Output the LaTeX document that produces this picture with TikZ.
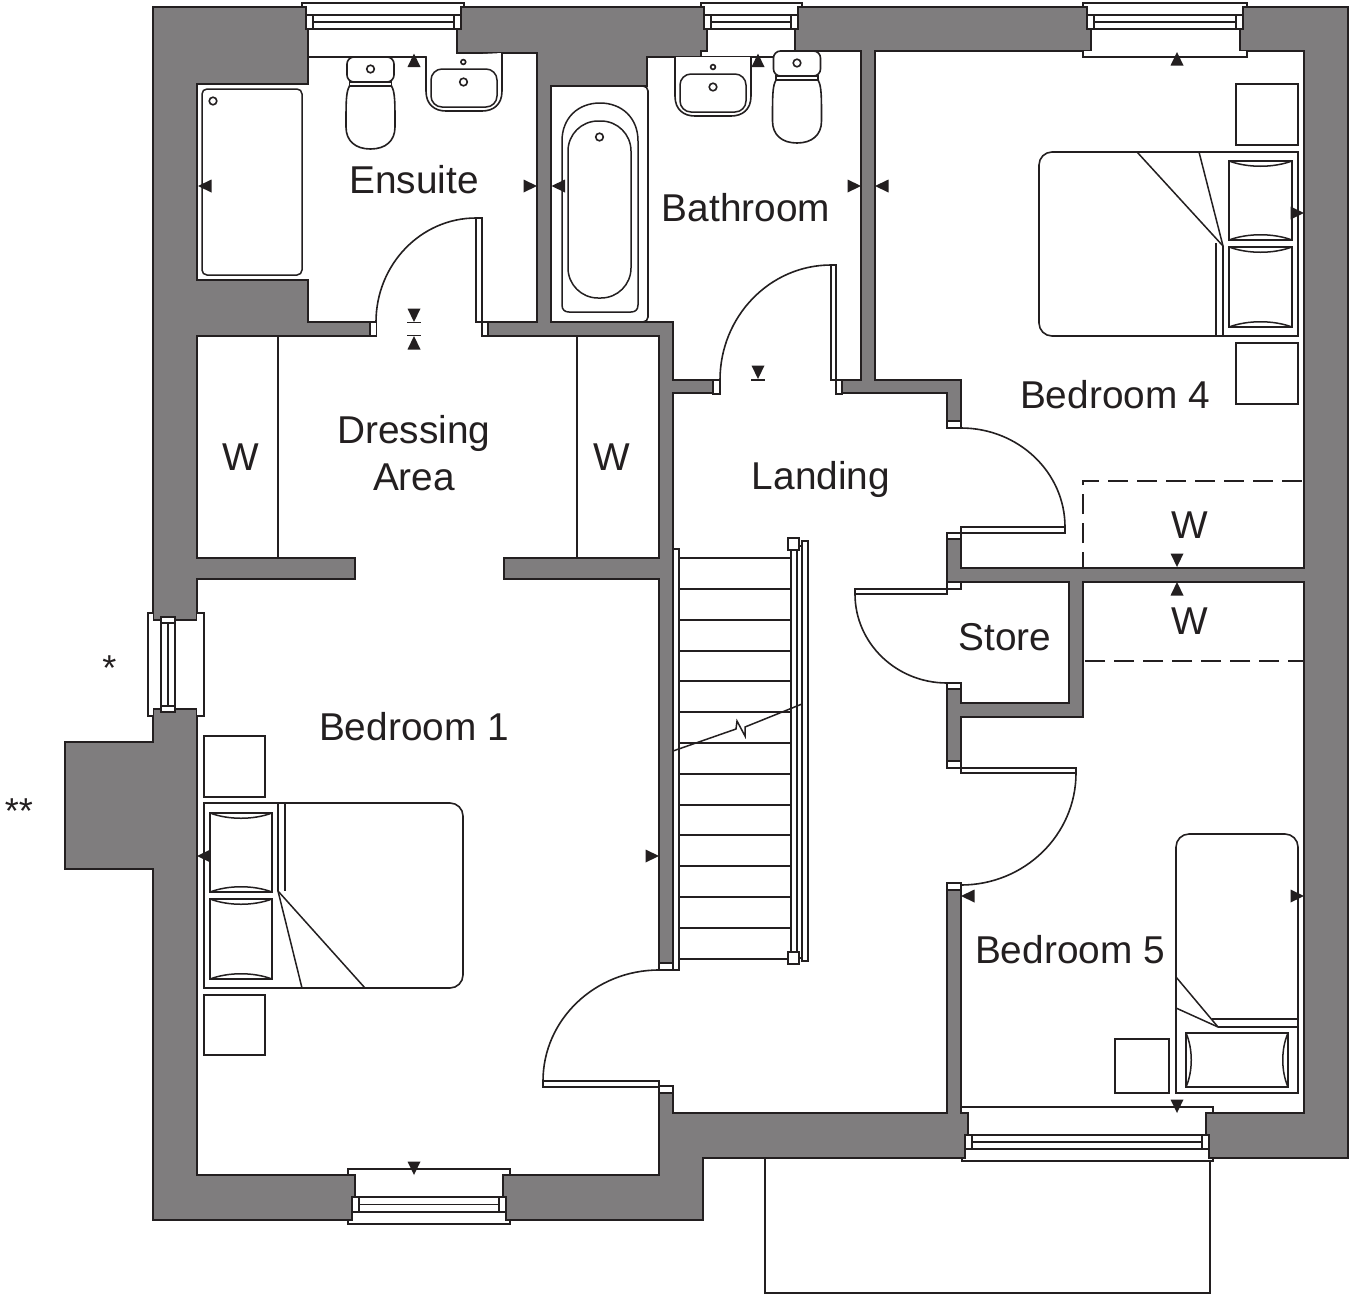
\documentclass[tikz,border=0pt]{standalone}
\usepackage{fontspec}
\setmainfont{Liberation Sans}
\definecolor{ink}{HTML}{231F20}
\definecolor{wallgrey}{HTML}{7F7D7E}
\tikzset{
  ln/.style={draw=ink,line width=1.6pt,line join=miter},
  wallbody/.style={ln,fill=wallgrey},
  room/.style={ln,fill=white},
  gapw/.style={fill=white,draw=none},
  fit/.style={ln,fill=white},
  thinln/.style={draw=ink,line width=1.5pt},
  dashln/.style={draw=ink,line width=1.3pt,dash pattern=on 20pt off 9pt,dash phase=4pt},
  mk/.style={fill=ink,draw=none},
  lab/.style={text=ink,inner sep=0pt,anchor=base,font=\fontsize{38.8}{38.8}\selectfont}
}
% markers: tip position
\newcommand\mkL[2]{\fill[mk] (#1,#2) -- ({#1+13.5},{#2-6.5}) -- ({#1+13.5},{#2+6.5}) -- cycle;}
\newcommand\mkR[2]{\fill[mk] (#1,#2) -- ({#1-13.5},{#2-6.5}) -- ({#1-13.5},{#2+6.5}) -- cycle;}
\newcommand\mkU[2]{\fill[mk] (#1,#2) -- ({#1-6.5},{#2+13.5}) -- ({#1+6.5},{#2+13.5}) -- cycle;}
\newcommand\mkD[2]{\fill[mk] (#1,#2) -- ({#1-6.5},{#2-13.5}) -- ({#1+6.5},{#2-13.5}) -- cycle;}
% horizontal window frame: xL xR yT yB
\newcommand\hframe[4]{
  \draw[fit] (#1,#3) rectangle (#2,#4);
  \draw[ln] ({#1+7},{(#3+#4)/2}) -- ({#2-7},{(#3+#4)/2});
  \draw[ln] ({#1+7},#3) -- ({#1+7},#4);
  \draw[ln] ({#2-7},#3) -- ({#2-7},#4);
}
% horizontal pillow
\newcommand\pillowH[4]{
  \draw[fit] (#1,#2) rectangle (#3,#4);
  \draw[thinln] (#1,#2) .. controls ({#1+.3*(#3-#1)},{#2+7}) and ({#3-.3*(#3-#1)},{#2+7}) .. (#3,#2);
  \draw[thinln] (#1,#4) .. controls ({#1+.3*(#3-#1)},{#4-7}) and ({#3-.3*(#3-#1)},{#4-7}) .. (#3,#4);
}
% toilet: cx, cistern top, cistern bottom, bowl top, bowl bottom
\newcommand\wc[5]{
  \draw[fit,rounded corners=7pt] ({#1-23.5},#2) -- ({#1+23.5},#2) -- ({#1+23.5},#3) -- ({#1-23.5},#3) -- cycle;
  \draw[fit] ({#1-21},#3) -- ({#1+21},#3) -- ({#1+21},#4) -- ({#1-21},#4) -- cycle;
  \draw[fit] ({#1-21},#4) .. controls ({#1-24.5},{#4+6}) and ({#1-24.5},{#4+15}) .. ({#1-24.5},{#5-22})
    .. controls ({#1-24.5},{#5-8}) and ({#1-15},#5) .. (#1,#5)
    .. controls ({#1+15},#5) and ({#1+24.5},{#5-8}) .. ({#1+24.5},{#5-22})
    .. controls ({#1+24.5},{#4+15}) and ({#1+24.5},{#4+6}) .. ({#1+21},#4) -- cycle;
  \draw[fit] (#1,{(#2+#3)/2-.5}) circle (3.8pt);
}
% basin: x1 x2 yT(left) yT(right) yB ; inner yT yB ; cx ; plug y
\newcommand\basin[9]{
  \draw[fit] (#1,#3) -- (#1,{#5-20}) .. controls (#1,{#5-6}) and ({#1+9},#5) .. ({#1+20},#5)
     -- ({#2-20},#5) .. controls ({#2-9},#5) and (#2,{#5-6}) .. (#2,{#5-20}) -- (#2,#4);
  \draw[thinln,rounded corners=11pt] ({#1+5},#6) -- ({#2-5},#6) -- ({#2-5},#7) -- ({#1+5},#7) -- cycle;
  \draw[fit] (#8,#9) circle (3.8pt);
}
\begin{document}
\begin{tikzpicture}[x=1pt,y=-1pt]
\useasboundingbox (0,0) rectangle (1352,1296);
% balcony outline below
\draw[ln] (765,1158) -- (765,1293) -- (1210,1293) -- (1210,1160);
% walls
\draw[wallbody] (153,7) -- (1348,7) -- (1348,1158) -- (703,1158) -- (703,1220) -- (153,1220) -- (153,869) -- (65,869) -- (65,742) -- (153,742) -- cycle;
% rooms
\draw[room] (197,84) -- (308,84) -- (308,29) -- (457,29) -- (457,53) -- (537,53) -- (537,322) -- (308,322) -- (308,280) -- (197,280) -- cycle;
\draw[room] (551,86) -- (647,86) -- (647,57) -- (701,57) -- (701,51) -- (707,51) -- (707,29) -- (795,29) -- (795,51) -- (861,51) -- (861,380) -- (673,380) -- (673,322) -- (551,322) -- cycle;
\draw[room] (875,51) -- (1083,51) -- (1091,51) -- (1091,29) -- (1240,29) -- (1240,51) -- (1304,51) -- (1304,568) -- (961,568) -- (961,380) -- (875,380) -- cycle;
\draw[room] (197,336) -- (659,336) -- (659,558) -- (504,558) -- (504,579) -- (659,579) -- (659,1175) -- (503,1175) -- (503,1197) -- (355,1197) -- (355,1175) -- (197,1175) -- (197,579) -- (355,579) -- (355,558) -- (197,558) -- cycle;
\draw[room] (673,393) -- (947,393) -- (947,1113) -- (673,1113) -- cycle;
\draw[room] (961,582) -- (1069,582) -- (1069,703) -- (961,703) -- cycle;
\draw[room] (1083,582) -- (1304,582) -- (1304,1113) -- (1206,1113) -- (1206,1135) -- (968,1135) -- (968,1113) -- (961,1113) -- (961,717) -- (1083,717) -- cycle;
% window sills
\draw[ln] (308,57) -- (427,57);
\draw[ln] (701,57) -- (773,57);
\draw[fit] (1083,51) -- (1083,57) -- (1247,57) -- (1247,51);
\draw[gapw] (1092,48) rectangle (1239,56);
\draw[ln] (348,1175) -- (348,1169) -- (510,1169) -- (510,1175);
\draw[ln] (961,1113) -- (961,1107) -- (1213,1107) -- (1213,1113);
\draw[ln] (302,7) -- (302,3) -- (464,3) -- (464,7) -- (461,7) -- (461,15) -- (306,15) -- (306,7) -- cycle;
\fill[white] (302.8,3.8) rectangle (463.2,6.2);
\fill[white] (306.8,5) rectangle (460.2,14);
\draw[ln] (701,7) -- (701,3) -- (802,3) -- (802,7) -- (798,7) -- (798,15) -- (704,15) -- (704,7) -- cycle;
\fill[white] (701.8,3.8) rectangle (801.2,6.2);
\fill[white] (704.8,5) rectangle (797.2,14);
\draw[ln] (1083,7) -- (1083,3) -- (1247,3) -- (1247,7) -- (1243,7) -- (1243,15) -- (1087,15) -- (1087,7) -- cycle;
\fill[white] (1083.8,3.8) rectangle (1246.2,6.2);
\fill[white] (1087.8,5) rectangle (1242.2,14);
\draw[fit] (352,1212) -- (352,1220) -- (348,1220) -- (348,1224) -- (510,1224) -- (510,1220) -- (506,1220) -- (506,1212);
\fill[white] (352.8,1216) rectangle (505.2,1222);
\draw[fit] (965,1149) -- (965,1158) -- (962,1158) -- (962,1161) -- (1213,1161) -- (1213,1158) -- (1209,1158) -- (1209,1149);
\fill[white] (965.8,1153) rectangle (1208.2,1160);
\hframe{306}{461}{15}{29}
\hframe{704}{798}{15}{29}
\hframe{1087}{1243}{15}{29}
\hframe{352}{506}{1197}{1212}
\hframe{965}{1209}{1135}{1149}
% left window
\fill[white] (150,620.7) rectangle (198,708.3);
\draw[ln] (153,620) -- (197,620);
\draw[ln] (153,709) -- (197,709);
\draw[fit] (153,613) -- (148,613) -- (148,716) -- (153,716);
\draw[fit] (197,613) -- (204,613) -- (204,716) -- (197,716);
\draw[fit] (161,617) rectangle (175,712);
\draw[ln] (168,623) -- (168,706);
\draw[ln] (161,623) -- (175,623);
\draw[ln] (161,706) -- (175,706);
% door openings and jambs
\fill[white] (376.7,321) rectangle (481.3,337);
\draw[fit] (370,322) rectangle (376.5,336);
\draw[fit] (482,322) rectangle (488,336);
\draw[fit] (476,218) rectangle (482,322);
\fill[white] (720.7,379) rectangle (835.3,394.5);
\draw[fit] (713,380) rectangle (720,394);
\draw[fit] (836,380) rectangle (842,394);
\draw[fit] (831,265) rectangle (836,380);
\fill[white] (946,428) rectangle (962,533);
\draw[fit] (947,421) rectangle (961,428);
\draw[fit] (947,533) rectangle (961,539);
\draw[fit] (961,527) rectangle (1065,533);
\fill[white] (946,589) rectangle (962,683);
\draw[fit] (947,582) rectangle (961,589);
\draw[fit] (947,683) rectangle (961,689);
\draw[fit] (855,589) rectangle (947,594);
\fill[white] (946,768) rectangle (962,883);
\draw[fit] (947,761) rectangle (961,768);
\draw[fit] (947,883) rectangle (961,890);
\draw[fit] (961,768) rectangle (1076,773);
\fill[white] (658,970) rectangle (674,1086);
\draw[fit] (659,963) rectangle (673,970);
\draw[fit] (659,1086) rectangle (673,1093);
\draw[fit] (543,1081) rectangle (659,1087);
% door arcs
\draw[ln] (376,322) .. controls (376,264.6) and (420.8,218) .. (476,218);
\draw[ln] (720,380) .. controls (720,316.5) and (769.7,265) .. (831,265);
\draw[ln] (961,428) .. controls (1018.4,428) and (1065,472.3) .. (1065,527);
\draw[ln] (855,594) .. controls (855,643.2) and (896.2,683) .. (947,683);
\draw[ln] (1076,773) .. controls (1076,834.9) and (1024.5,885) .. (961,885);
\draw[ln] (543,1081) .. controls (543,1019.7) and (594.9,970) .. (659,970);
% wardrobes
\draw[ln] (278,336) -- (278,558);
\draw[ln] (577,336) -- (577,558);
\draw[dashln] (1083,568) -- (1083,481) -- (1304,481);
\draw[dashln] (1304,661) -- (1083,661);
% stairs
\draw[fit] (673,549) rectangle (679,970);
\foreach \yy in {558,589,620,651,681,712,743,774,805,835,866,897,928,959}{\draw[ln] (679,\yy) -- (791,\yy);}
\draw[fit] (802,541) rectangle (808,961);
\draw[fit] (797,546) rectangle (802,958);
\draw[fit] (791,550) rectangle (797,952);
\draw[fit] (788,538) rectangle (799,550);
\draw[fit] (788,952) rectangle (799,964);
\draw[ln,line width=1.5pt] (673,751) -- (736,729) -- (737,721) -- (745,736) -- (745,727) -- (802,704);
% shower
\draw[thinln,rounded corners=5pt] (202,89) -- (302,89) -- (302,275) -- (202,275) -- cycle;
\draw[fit] (213,101) circle (3.8pt);
% bath
\draw[fit,rounded corners=5pt] (551,86) -- (648,86) -- (648,322) -- (551,322);
\draw[ln] (551,85) -- (551,323);
\draw[thinln] (562,141) .. controls (562,118) and (578,103) .. (600,103) .. controls (622,103) and (638,118) .. (638,141) -- (638,305) .. controls (638,310) and (635,312) .. (631,312) -- (569,312) .. controls (565,312) and (562,310) .. (562,305) -- cycle;
\draw[thinln,rounded corners=30pt] (568,121) -- (631,121) -- (631,298) -- (568,298) -- cycle;
\draw[fit] (599.5,137) circle (3.8pt);
% sinks and toilets
\basin{426}{502}{57}{53}{111}{69}{107}{463.5}{82}
\draw[fit] (463.3,62) circle (2.4pt);
\wc{370.5}{57}{82}{86}{149}
\basin{675}{751}{57}{57}{116}{74}{112}{713}{87}
\draw[fit] (713,67) circle (2.4pt);
\wc{797}{51}{76}{80}{143}
% bedroom 1 furniture
\draw[fit] (204,736) rectangle (265,797);
\draw[fit] (204,995) rectangle (265,1055);
\draw[fit] (204,803) [rounded corners=13pt] -- (463,803) -- (463,988) [sharp corners] -- (204,988) -- cycle;
\draw[thinln] (278,803) -- (278,891);
\draw[thinln] (285,803) -- (285,891);
\draw[thinln] (278,891) -- (302,988);
\draw[thinln] (278,891) -- (365,988);
\pillowH{210}{813}{272}{892}
\pillowH{210}{899}{272}{979}
% bedroom 4 furniture
\draw[fit] (1236,84) rectangle (1298,145);
\draw[fit] (1236,343) rectangle (1298,404);
\draw[fit] (1298,152) [rounded corners=13pt] -- (1039,152) -- (1039,336) [sharp corners] -- (1298,336) -- cycle;
\draw[thinln] (1216,243) -- (1216,336);
\draw[thinln] (1223,246) -- (1223,336);
\draw[thinln] (1223,246) -- (1137,152);
\draw[thinln] (1223,246) -- (1199,152);
\pillowH{1229}{161}{1292}{240}
\pillowH{1229}{247}{1292}{327}
% bedroom 5 furniture
\draw[fit] (1115,1039) rectangle (1169,1093);
\draw[fit] (1176,1093) [rounded corners=13pt] -- (1176,834) -- (1298,834) [sharp corners] -- (1298,1093) -- cycle;
\draw[thinln] (1212,1019) -- (1298,1019);
\draw[thinln] (1218,1027) -- (1298,1027);
\draw[thinln] (1176,977) -- (1218,1027);
\draw[thinln] (1176,1008) -- (1218,1027);
\draw[fit] (1186,1033) rectangle (1288,1087);
\draw[thinln] (1186,1033) .. controls (1193,1049) and (1193,1071) .. (1186,1087);
\draw[thinln] (1288,1033) .. controls (1281,1049) and (1281,1071) .. (1288,1087);
% level markers
\mkL{198}{186}\mkR{537}{186}\mkU{414}{53.5}
\mkD{414}{322}\mkU{414}{336}
\draw[thinln] (407,322.5) -- (421,322.5);
\draw[thinln] (407,335.5) -- (421,335.5);
\mkL{551.5}{186}\mkR{861}{186}\mkU{758}{53.5}
\mkD{758}{379}
\draw[thinln] (751,380) -- (765,380);
\mkL{875}{186}\mkU{1177}{52}\mkR{1304}{213}
\mkD{1177}{567}\mkU{1177}{582}
\mkL{961}{896}\mkR{1304}{896}\mkD{1177}{1113}
\mkL{197}{856}\mkR{659}{856}\mkD{414}{1175}
% labels
\node[lab] (ensuite) at (414,193.5) {Ensuite};
\node[lab] (bathroom) at (746,221) {Bathroom};
\node[lab] (bed4) at (1115,408) {Bedroom 4};
\node[lab] (landing) at (821,489) {Landing};
\node[lab] (dress1) at (414,443) {Dressing};
\node[lab] (dress2) at (414,490) {Area};
\node[lab] (wa) at (241,470.5) {W};
\node[lab] (wb) at (612,470.5) {W};
\node[lab] (wc) at (1190,538) {W};
\node[lab] (wd) at (1190,634) {W};
\node[lab] (store) at (1005,650) {Store};
\node[lab] (bed1) at (414,740) {Bedroom 1};
\node[lab] (bed5) at (1070,963) {Bedroom 5};
\node[lab,font=\fontsize{36}{36}\selectfont] (star1) at (109.5,680) {*};
\node[lab,font=\fontsize{36}{36}\selectfont] (star2) at (19,823) {**};
\end{tikzpicture}
\end{document}
